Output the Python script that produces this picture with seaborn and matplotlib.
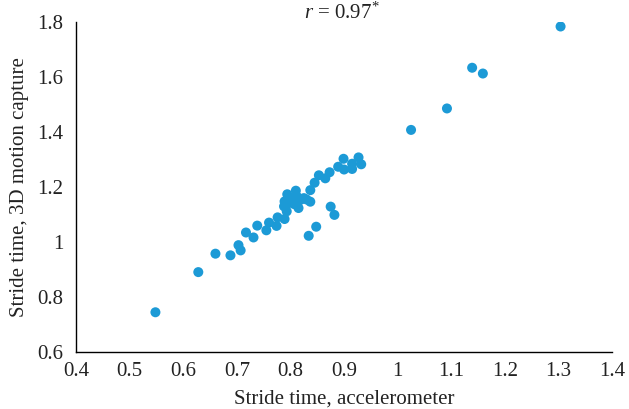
import numpy as np
import pandas as pd
import matplotlib
matplotlib.use("Agg")
import matplotlib.pyplot as plt
import seaborn as sns

accel = [0.548, 0.628, 0.660, 0.688, 0.703, 0.707, 0.717, 0.731, 0.738, 0.755,
         0.760, 0.774, 0.776, 0.789, 0.788, 0.789, 0.793, 0.794, 0.797, 0.801,
         0.807, 0.810, 0.812, 0.815, 0.819, 0.825, 0.837, 0.837, 0.834, 0.848,
         0.845, 0.853, 0.865, 0.873, 0.875, 0.882, 0.889, 0.899, 0.900, 0.915,
         0.915, 0.927, 0.932, 1.025, 1.092, 1.139, 1.159, 1.304,
         0.805, 0.815, 0.830]
mocap = [0.745, 0.891, 0.958, 0.952, 0.989, 0.970, 1.035, 1.017, 1.060, 1.043,
         1.071, 1.059, 1.090, 1.084, 1.130, 1.148, 1.112, 1.174, 1.142, 1.157,
         1.138, 1.187, 1.166, 1.124, 1.154, 1.160, 1.189, 1.147, 1.023, 1.056,
         1.216, 1.243, 1.232, 1.254, 1.129, 1.099, 1.274, 1.303, 1.264, 1.285,
         1.266, 1.308, 1.283, 1.408, 1.486, 1.634, 1.613, 1.784,
         1.160, 1.150, 1.155]

x_ticks = [0.4, 0.5, 0.6, 0.7, 0.8, 0.9, 1.0, 1.1, 1.2, 1.3, 1.4]
x_labels = ["0.4", "0.5", "0.6", "0.7", "0.8", "0.9", "1", "1.1", "1.2", "1.3", "1.4"]
y_ticks = [0.6, 0.8, 1.0, 1.2, 1.4, 1.6, 1.8]
y_labels = ["0.6", "0.8", "1", "1.2", "1.4", "1.6", "1.8"]

df = pd.DataFrame({"accel": accel, "mocap": mocap})

sns.set_style("white")
plt.rcParams["font.family"] = ["Liberation Serif", "DejaVu Serif"]
plt.rcParams["mathtext.fontset"] = "custom"
plt.rcParams["mathtext.rm"] = "Liberation Serif"
plt.rcParams["mathtext.it"] = "Liberation Serif:italic"

fig = plt.figure(figsize=(6.29, 4.09), dpi=100)
ax = fig.add_axes([0.121, 0.139, 0.852, 0.807])
sns.scatterplot(data=df, x="accel", y="mocap", ax=ax, s=52, color="#1c9ad6",
                edgecolor="none", linewidth=0)

ax.set_xlim(0.4, 1.4)
ax.set_ylim(0.6, 1.8)
ax.set_xticks(x_ticks)
ax.set_xticklabels(x_labels)
ax.set_yticks(y_ticks)
ax.set_yticklabels(y_labels)
ax.tick_params(axis="x", length=0, labelsize=15, colors="#222222", pad=7)
ax.tick_params(axis="y", length=0, labelsize=15, colors="#222222", pad=9)
for s in ["top", "right"]:
    ax.spines[s].set_visible(False)
for s in ["left", "bottom"]:
    ax.spines[s].set_color("black")
    ax.spines[s].set_linewidth(1.0)
ax.set_xlabel("Stride time, accelerometer", fontsize=15, color="#222222", labelpad=6)
ax.set_ylabel("Stride time, 3D motion capture", fontsize=15, color="#222222", labelpad=6)
fig.text(0.544, 0.968, r"$r$ = 0.97$^{*}$", ha="center", va="center", fontsize=15,
         color="#222222")

fig.savefig("out.png", dpi=100, facecolor="white")
